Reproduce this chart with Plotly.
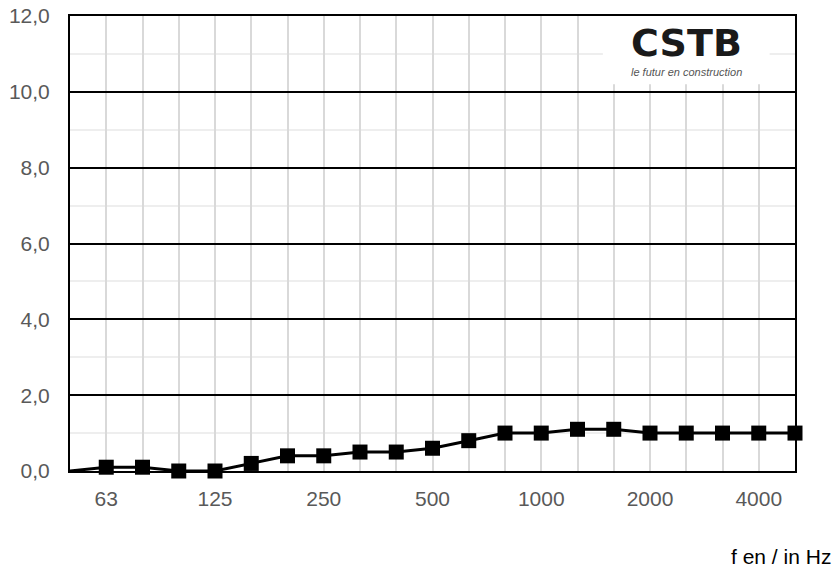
import plotly.graph_objects as go

# third-octave band centre frequencies (Hz); the first band starts the curve at the axis edge
freqs = ["50", "63", "80", "100", "125", "160", "200", "250", "315", "400", "500",
         "630", "800", "1000", "1250", "1600", "2000", "2500", "3150", "4000", "5000"]
values = [0.0, 0.1, 0.1, 0.0, 0.0, 0.2, 0.4, 0.4, 0.5, 0.5, 0.6,
          0.8, 1.0, 1.0, 1.1, 1.1, 1.0, 1.0, 1.0, 1.0, 1.0]
labelled = ["63", "125", "250", "500", "1000", "2000", "4000"]
y_ticks = [0, 2, 4, 6, 8, 10, 12]

xpos = [i - 1 for i in range(len(freqs))]
ticktext = [f if f in labelled else "" for f in freqs[1:]]

FONT = "Liberation Sans, Arial, sans-serif"

fig = go.Figure()
fig.add_trace(go.Scatter(x=xpos, y=values, mode="lines",
                         line=dict(color="black", width=3), hoverinfo="skip",
                         showlegend=False, cliponaxis=False))
fig.add_trace(go.Scatter(x=xpos[1:], y=values[1:], mode="markers",
                         marker=dict(symbol="square", size=15, color="black"),
                         showlegend=False, cliponaxis=False,
                         text=freqs[1:]))

# logo box (white background that hides the grid)
fig.add_shape(type="rect", xref="x", yref="y", x0=13.7, x1=18.3, y0=10.2, y1=12,
              fillcolor="white", line=dict(width=0), layer="between")
fig.add_annotation(x=16.0, y=11.3, xref="x", yref="y", text="<b>CSTB</b>",
                   showarrow=False, yanchor="middle",
                   font=dict(family="DejaVu Sans", size=38, color="#1a1a1a"))
fig.add_annotation(x=16.0, y=10.52, xref="x", yref="y", text="<i>le futur en construction</i>",
                   showarrow=False, yanchor="middle",
                   font=dict(family=FONT, size=11, color="#555555"))

fig.add_annotation(x=1.052, y=-0.187, xref="paper", yref="paper", text="f en / in Hz",
                   xanchor="right", yanchor="middle", showarrow=False,
                   font=dict(family=FONT, size=21, color="black"))

fig.update_layout(
    width=836, height=570,
    margin=dict(l=70, r=41, t=16, b=99, autoexpand=False),
    paper_bgcolor="white", plot_bgcolor="white",
    font=dict(family=FONT, size=21, color="#595959"),
    xaxis=dict(range=[-1, 19], tickmode="array", tickvals=xpos[1:], ticktext=ticktext,
               showgrid=True, gridcolor="#d9d9d9", gridwidth=2, automargin=False,
               showline=True, linecolor="black", linewidth=2, mirror=True,
               ticks="", ticklabelstandoff=8, zeroline=False,
               tickfont=dict(family=FONT, size=21, color="#595959")),
    yaxis=dict(range=[0, 12], tickmode="array", tickvals=y_ticks, automargin=False,
               ticktext=[f"{v:.1f}".replace(".", ",") for v in y_ticks],
               showgrid=True, gridcolor="black", gridwidth=2,
               minor=dict(dtick=1, showgrid=True, gridcolor="#eeeeee", gridwidth=1.5),
               showline=True, linecolor="black", linewidth=2, mirror=True,
               zeroline=True, zerolinecolor="black", zerolinewidth=3,
               ticks="", ticklabelstandoff=14,
               tickfont=dict(family=FONT, size=21, color="#595959")),
)

fig.write_html("out.html", config={"displayModeBar": False},
               post_script="document.body.style.margin='0';document.body.style.padding='0';")
